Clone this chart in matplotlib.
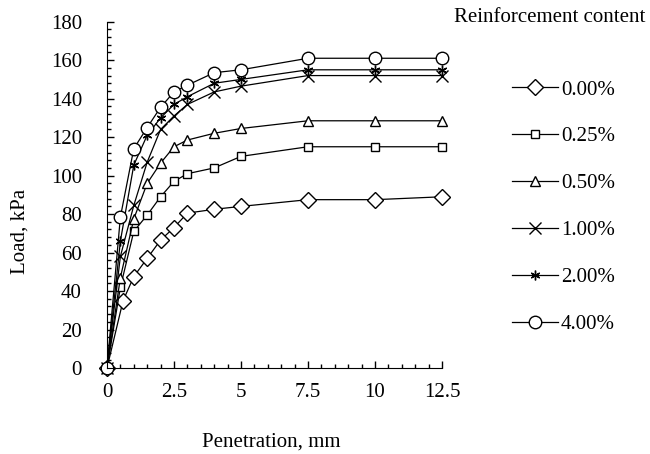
import matplotlib
matplotlib.use("Agg")
import matplotlib.pyplot as plt
from matplotlib.ticker import MultipleLocator

plt.rcParams['font.family'] = ['Liberation Serif', 'DejaVu Serif']

# penetration (mm) and load (kPa) for each reinforcement content
pen = [0, 0.5, 1, 1.5, 2, 2.5, 3, 4, 5, 7.5, 10, 12.5]
pen_000 = [0, 0.6, 1, 1.5, 2, 2.5, 3, 4, 5, 7.5, 10, 12.5]

load_000 = [0, 35, 47.5, 57, 66.5, 73, 80.5, 82.5, 84, 87.5, 87.5, 89]
load_025 = [0, 42, 71, 79.5, 89, 97, 101, 104, 110, 115, 115, 115]
load_050 = [0, 47, 77.5, 96, 106.5, 115, 118.5, 122, 124.5, 128.5, 128.5, 128.5]
load_100 = [0, 58, 84.5, 107, 124, 131, 137, 143.5, 146.5, 152, 152, 152]
load_200 = [0, 66, 105.5, 121, 130, 137, 141, 148, 150, 155, 155, 155]
load_400 = [0, 78.5, 114, 125, 135.5, 143.5, 147, 153.5, 155, 161, 161, 161]

labels = ["0.00%", "0.25%", "0.50%", "1.00%", "2.00%", "4.00%"]

fs = 15
fig = plt.figure(figsize=(6.5, 4.54), dpi=100)
ax = fig.add_axes([0.1646, 0.1894, 0.5154, 0.7628])

style = dict(color='black', lw=0.9, mec='black', mfc='white', mew=1.0, clip_on=False)
ax.plot(pen_000, load_000, marker='D', ms=8.5, label=labels[0], **style)
ax.plot(pen, load_025, marker='s', ms=5.5, label=labels[1], **style)
ax.plot(pen, load_050, marker='^', ms=7, label=labels[2], **style)
ax.plot(pen, load_100, marker='x', ms=8, label=labels[3], **style)
ax.plot(pen, load_200, marker=(6, 2, 0), ms=7, label=labels[4], **style)
ax.plot(pen, load_400, marker='o', ms=9, label=labels[5], **style)

ax.set_xlim(0, 12.5)
ax.set_ylim(0, 180)
ax.set_xticks([0, 2.5, 5, 7.5, 10, 12.5])
ax.set_xticklabels(["0", "2.5", "5", "7.5", "10", "12.5"])
ax.set_yticks(range(0, 181, 20))
ax.xaxis.set_minor_locator(MultipleLocator(0.5))
ax.yaxis.set_minor_locator(MultipleLocator(4))
ax.tick_params(which='both', direction='in', labelsize=fs, width=1)
ax.tick_params(which='major', length=5)
ax.tick_params(which='minor', length=3)
ax.tick_params(axis='y', pad=18)
ax.tick_params(axis='x', pad=11)
ax.spines['top'].set_visible(False)
ax.spines['right'].set_visible(False)

fig.text(271 / 650, 1 - 442 / 454, "Penetration, mm", fontsize=fs, ha='center', va='center')
fig.text(20 / 650, 1 - 231 / 454, "Load, kPa", fontsize=fs, ha='center', va='center', rotation=90)
fig.text(550 / 650, 1 - 18 / 454, "Reinforcement content", fontsize=fs, ha='center', va='center')

fig.legend(loc='upper left', bbox_to_anchor=(512 / 650, 1 - 80 / 454), frameon=False,
           fontsize=fs, handlelength=2.2, handletextpad=0.15, labelspacing=1.31,
           borderaxespad=0, borderpad=0)

fig.savefig("out.png", dpi=100)
